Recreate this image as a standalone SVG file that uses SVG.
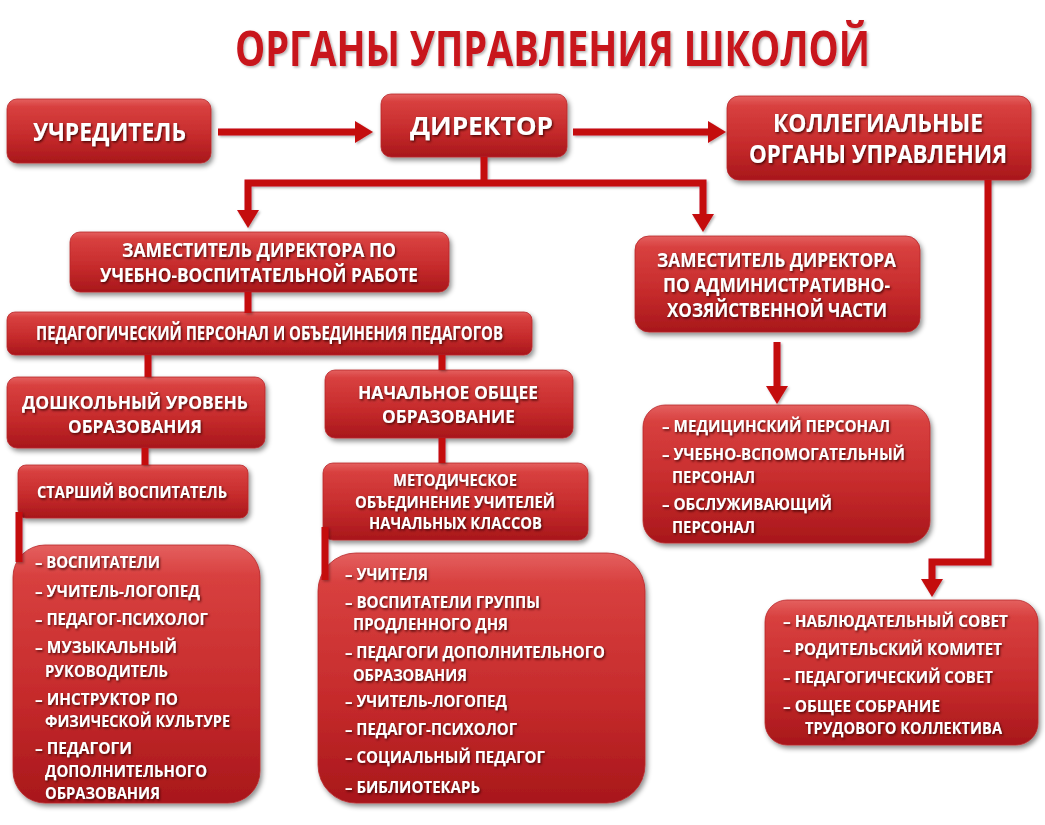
<svg xmlns="http://www.w3.org/2000/svg" width="1045" height="825" viewBox="0 0 1045 825">
<defs>
  <linearGradient id="boxg" x1="0" y1="0" x2="0" y2="1">
    <stop offset="0" stop-color="#e4605f"/>
    <stop offset="0.12" stop-color="#d8403f"/>
    <stop offset="0.6" stop-color="#c52a2b"/>
    <stop offset="1" stop-color="#a8171b"/>
  </linearGradient>
  <filter id="bshadow" x="-10%" y="-10%" width="125%" height="130%">
    <feDropShadow dx="2" dy="3" stdDeviation="2.5" flood-color="#000" flood-opacity="0.45"/>
  </filter>
  <filter id="tshadow" x="-5%" y="-30%" width="110%" height="170%">
    <feDropShadow dx="1.2" dy="1.5" stdDeviation="0.8" flood-color="#3a0000" flood-opacity="0.85"/>
  </filter>
  <filter id="lshadow" x="-10%" y="-10%" width="130%" height="130%">
    <feDropShadow dx="1.5" dy="1.5" stdDeviation="1.2" flood-color="#000" flood-opacity="0.3"/>
  </filter>
  <filter id="cshadow" filterUnits="userSpaceOnUse" x="0" y="0" width="1045" height="825">
    <feDropShadow dx="1.5" dy="1.5" stdDeviation="1.2" flood-color="#000" flood-opacity="0.3"/>
  </filter>
  <marker id="arr" viewBox="0 0 18 22" refX="0" refY="11" markerWidth="18" markerHeight="22" markerUnits="userSpaceOnUse" orient="auto-start-reverse">
    <path d="M0,0 L18,11 L0,22 z" fill="#c4090f"/>
  </marker>
</defs>
<style>
  .box { fill: url(#boxg); stroke: #b8262a; stroke-width: 0.8; filter: url(#bshadow); }
  .t { font-family: "Open Sans", "Liberation Sans", "DejaVu Sans", sans-serif; font-weight: bold; fill: #ffffff; filter: url(#tshadow); }
  .c { text-anchor: middle; }
  .big { font-size: 25px; }
  .mid { font-size: 19px; }
  .mid2 { font-size: 17.5px; }
  .sm { font-size: 16px; }
  .li { font-size: 16px; }
  .title { font-family: "Open Sans", "Liberation Sans", "DejaVu Sans", sans-serif; font-weight: bold; font-size: 48px; fill: #c8121b; text-anchor: middle; filter: url(#lshadow); }
  .conn { fill: none; stroke: #c4090f; stroke-width: 7; stroke-linejoin: miter; }
</style>
<rect x="0" y="0" width="1045" height="825" fill="#ffffff"/>

<text class="title" x="552.5" y="66" textLength="635" lengthAdjust="spacingAndGlyphs">ОРГАНЫ УПРАВЛЕНИЯ ШКОЛОЙ</text>

<g id="n-uchreditel">
  <rect class="box" x="7" y="99" width="204" height="64" rx="10"/>
  <text class="t c big" x="109.5" y="141" textLength="153" lengthAdjust="spacingAndGlyphs">УЧРЕДИТЕЛЬ</text>
</g>
<g id="n-director">
  <rect class="box" x="381" y="94" width="186" height="63" rx="10"/>
  <text class="t c big" x="481.5" y="135" textLength="143" lengthAdjust="spacingAndGlyphs">ДИРЕКТОР</text>
</g>
<g id="n-kollegialnye">
  <rect class="box" x="727" y="96" width="304" height="84" rx="12"/>
  <text class="t c big" x="878" y="132" textLength="210" lengthAdjust="spacingAndGlyphs">КОЛЛЕГИАЛЬНЫЕ</text>
  <text class="t c big" x="878" y="163" textLength="258" lengthAdjust="spacingAndGlyphs">ОРГАНЫ УПРАВЛЕНИЯ</text>
</g>
<g id="n-zam-uvr">
  <rect class="box" x="70" y="232" width="379" height="60" rx="10"/>
  <text class="t c mid" x="259" y="257" textLength="274" lengthAdjust="spacingAndGlyphs">ЗАМЕСТИТЕЛЬ ДИРЕКТОРА ПО</text>
  <text class="t c mid" x="259" y="282" textLength="318" lengthAdjust="spacingAndGlyphs">УЧЕБНО-ВОСПИТАТЕЛЬНОЙ РАБОТЕ</text>
</g>
<g id="n-zam-ahch">
  <rect class="box" x="635" y="236" width="285" height="96" rx="14"/>
  <text class="t c mid" x="776.5" y="267" textLength="239" lengthAdjust="spacingAndGlyphs">ЗАМЕСТИТЕЛЬ ДИРЕКТОРА</text>
  <text class="t c mid" x="776.5" y="292" textLength="227" lengthAdjust="spacingAndGlyphs">ПО АДМИНИСТРАТИВНО-</text>
  <text class="t c mid" x="777" y="317" textLength="220" lengthAdjust="spacingAndGlyphs">ХОЗЯЙСТВЕННОЙ ЧАСТИ</text>
</g>
<g id="n-ped-personal">
  <rect class="box" x="7" y="312" width="525" height="43" rx="8"/>
  <text class="t c mid" x="269.5" y="340" textLength="467" lengthAdjust="spacingAndGlyphs">ПЕДАГОГИЧЕСКИЙ ПЕРСОНАЛ И ОБЪЕДИНЕНИЯ ПЕДАГОГОВ</text>
</g>
<g id="n-doshkolny">
  <rect class="box" x="7" y="377" width="258" height="71" rx="10"/>
  <text class="t c mid2" x="135" y="409" textLength="226" lengthAdjust="spacingAndGlyphs">ДОШКОЛЬНЫЙ УРОВЕНЬ</text>
  <text class="t c mid2" x="135" y="433" textLength="134" lengthAdjust="spacingAndGlyphs">ОБРАЗОВАНИЯ</text>
</g>
<g id="n-nachalnoe">
  <rect class="box" x="325" y="370" width="248" height="68" rx="10"/>
  <text class="t c mid2" x="448" y="399" textLength="180" lengthAdjust="spacingAndGlyphs">НАЧАЛЬНОЕ ОБЩЕЕ</text>
  <text class="t c mid2" x="448.5" y="423" textLength="133" lengthAdjust="spacingAndGlyphs">ОБРАЗОВАНИЕ</text>
</g>
<g id="n-starshy">
  <rect class="box" x="18" y="465" width="230" height="53" rx="8"/>
  <text class="t c sm" x="132" y="498" textLength="190" lengthAdjust="spacingAndGlyphs">СТАРШИЙ ВОСПИТАТЕЛЬ</text>
</g>
<g id="n-metod">
  <rect class="box" x="323" y="463" width="265" height="77" rx="10"/>
  <text class="t c sm" x="455" y="486" textLength="124" lengthAdjust="spacingAndGlyphs">МЕТОДИЧЕСКОЕ</text>
  <text class="t c sm" x="455" y="508" textLength="200" lengthAdjust="spacingAndGlyphs">ОБЪЕДИНЕНИЕ УЧИТЕЛЕЙ</text>
  <text class="t c sm" x="455.5" y="529" textLength="173" lengthAdjust="spacingAndGlyphs">НАЧАЛЬНЫХ КЛАССОВ</text>
</g>
<g id="n-list-doshkolny">
  <rect class="box" x="13" y="545" width="247" height="258" rx="32"/>
  <text class="t li" x="35" y="568" textLength="125" lengthAdjust="spacingAndGlyphs">– ВОСПИТАТЕЛИ</text>
  <text class="t li" x="35" y="597" textLength="165" lengthAdjust="spacingAndGlyphs">– УЧИТЕЛЬ-ЛОГОПЕД</text>
  <text class="t li" x="35" y="625" textLength="173" lengthAdjust="spacingAndGlyphs">– ПЕДАГОГ-ПСИХОЛОГ</text>
  <text class="t li" x="35" y="653" textLength="142" lengthAdjust="spacingAndGlyphs">– МУЗЫКАЛЬНЫЙ</text>
  <text class="t li" x="45" y="677" textLength="123" lengthAdjust="spacingAndGlyphs">РУКОВОДИТЕЛЬ</text>
  <text class="t li" x="35" y="705" textLength="143" lengthAdjust="spacingAndGlyphs">– ИНСТРУКТОР ПО</text>
  <text class="t li" x="45" y="727" textLength="185" lengthAdjust="spacingAndGlyphs">ФИЗИЧЕСКОЙ КУЛЬТУРЕ</text>
  <text class="t li" x="35" y="754" textLength="97" lengthAdjust="spacingAndGlyphs">– ПЕДАГОГИ</text>
  <text class="t li" x="45" y="777" textLength="162" lengthAdjust="spacingAndGlyphs">ДОПОЛНИТЕЛЬНОГО</text>
  <text class="t li" x="45" y="799" textLength="115" lengthAdjust="spacingAndGlyphs">ОБРАЗОВАНИЯ</text>
</g>
<g id="n-list-nachalnoe">
  <rect class="box" x="318" y="553" width="327" height="250" rx="38"/>
  <text class="t li" x="345" y="580" textLength="83" lengthAdjust="spacingAndGlyphs">– УЧИТЕЛЯ</text>
  <text class="t li" x="345" y="608" textLength="195" lengthAdjust="spacingAndGlyphs">– ВОСПИТАТЕЛИ ГРУППЫ</text>
  <text class="t li" x="353" y="630" textLength="155" lengthAdjust="spacingAndGlyphs">ПРОДЛЕННОГО ДНЯ</text>
  <text class="t li" x="345" y="658" textLength="260" lengthAdjust="spacingAndGlyphs">– ПЕДАГОГИ ДОПОЛНИТЕЛЬНОГО</text>
  <text class="t li" x="353" y="681" textLength="114" lengthAdjust="spacingAndGlyphs">ОБРАЗОВАНИЯ</text>
  <text class="t li" x="345" y="707" textLength="162" lengthAdjust="spacingAndGlyphs">– УЧИТЕЛЬ-ЛОГОПЕД</text>
  <text class="t li" x="345" y="735" textLength="172" lengthAdjust="spacingAndGlyphs">– ПЕДАГОГ-ПСИХОЛОГ</text>
  <text class="t li" x="345" y="763" textLength="200" lengthAdjust="spacingAndGlyphs">– СОЦИАЛЬНЫЙ ПЕДАГОГ</text>
  <text class="t li" x="345" y="793" textLength="135" lengthAdjust="spacingAndGlyphs">– БИБЛИОТЕКАРЬ</text>
</g>
<g id="n-list-ahch">
  <rect class="box" x="643" y="405" width="287" height="138" rx="22"/>
  <text class="t li" x="662" y="432" textLength="228" lengthAdjust="spacingAndGlyphs">– МЕДИЦИНСКИЙ ПЕРСОНАЛ</text>
  <text class="t li" x="662" y="460" textLength="243" lengthAdjust="spacingAndGlyphs">– УЧЕБНО-ВСПОМОГАТЕЛЬНЫЙ</text>
  <text class="t li" x="672" y="483" textLength="83" lengthAdjust="spacingAndGlyphs">ПЕРСОНАЛ</text>
  <text class="t li" x="662" y="510" textLength="170" lengthAdjust="spacingAndGlyphs">– ОБСЛУЖИВАЮЩИЙ</text>
  <text class="t li" x="672" y="533" textLength="83" lengthAdjust="spacingAndGlyphs">ПЕРСОНАЛ</text>
</g>
<g id="n-list-sovet">
  <rect class="box" x="765" y="600" width="273" height="145" rx="22"/>
  <text class="t li" x="783" y="627" textLength="225" lengthAdjust="spacingAndGlyphs">– НАБЛЮДАТЕЛЬНЫЙ СОВЕТ</text>
  <text class="t li" x="783" y="655" textLength="219" lengthAdjust="spacingAndGlyphs">– РОДИТЕЛЬСКИЙ КОМИТЕТ</text>
  <text class="t li" x="783" y="683" textLength="210" lengthAdjust="spacingAndGlyphs">– ПЕДАГОГИЧЕСКИЙ СОВЕТ</text>
  <text class="t li" x="783" y="712" textLength="157" lengthAdjust="spacingAndGlyphs">– ОБЩЕЕ СОБРАНИЕ</text>
  <text class="t li" x="805" y="734" textLength="197" lengthAdjust="spacingAndGlyphs">ТРУДОВОГО КОЛЛЕКТИВА</text>
</g>

<g id="connectors" filter="url(#cshadow)">
  <path class="conn" d="M218,132 H355" marker-end="url(#arr)"/>
  <path class="conn" d="M573,132 H708" marker-end="url(#arr)"/>
  <path class="conn" d="M484,157 V183"/>
  <path class="conn" d="M248,210 V183 H703 V214" marker-start="url(#arr)" marker-end="url(#arr)"/>
  <path class="conn" d="M248,292 V313"/>
  <path class="conn" d="M148,355 V377"/>
  <path class="conn" d="M442,355 V370"/>
  <path class="conn" d="M145,448 V465"/>
  <path class="conn" d="M442,438 V463"/>
  <path class="conn" d="M19,512 V562"/>
  <path class="conn" d="M325,527 V580"/>
  <path class="conn" d="M777,342 V386" marker-end="url(#arr)"/>
  <path class="conn" d="M988,180 V562 H932 V579" marker-end="url(#arr)"/>
</g>
</svg>
